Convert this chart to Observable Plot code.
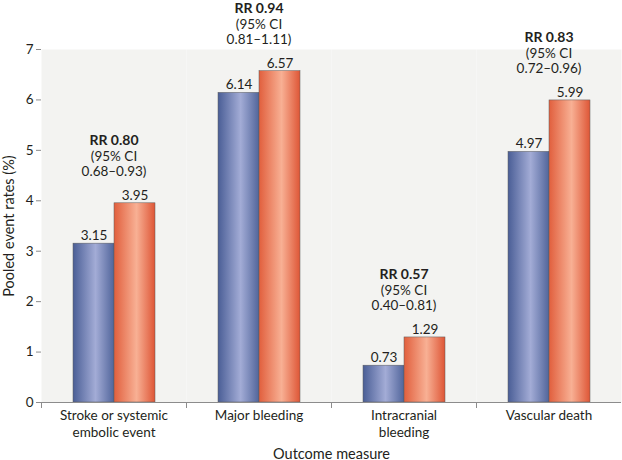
<!DOCTYPE html>
<html>
<head>
<meta charset="utf-8">
<script src="https://cdn.jsdelivr.net/npm/d3@7"></script>
<script src="https://cdn.jsdelivr.net/npm/@observablehq/plot@0.6"></script>
<style>
  html, body { margin: 0; padding: 0; background: #ffffff; }
  #chart svg { display: block; }
</style>
</head>
<body>
<div id="chart"></div>
<script>
// ---- Data ----
const categories = ["Stroke or systemic\nembolic event", "Major bleeding", "Intracranial\nbleeding", "Vascular death"];
const series = ["NOAC", "Warfarin"];
const noacRates = [3.15, 6.14, 0.73, 4.97];
const warfarinRates = [3.95, 6.57, 1.29, 5.99];
const rrValues = [0.80, 0.94, 0.57, 0.83];
const ciLow = [0.68, 0.81, 0.40, 0.72];
const ciHigh = [0.93, 1.11, 0.81, 0.96];
const yTicks = [0, 1, 2, 3, 4, 5, 6, 7];

// ---- Tables built from the arrays ----
const bars = categories.flatMap((c, i) => [
  {category: c, series: series[0], value: noacRates[i]},
  {category: c, series: series[1], value: warfarinRates[i]}
]);
const groups = categories.map((c, i) => ({
  category: c,
  top: Math.max(noacRates[i], warfarinRates[i]),
  rr: `RR ${rrValues[i].toFixed(2)}`,
  ciHead: "(95% CI",
  ci: `${ciLow[i].toFixed(2)}–${ciHigh[i].toFixed(2)})`
}));

const font = "Lato, 'Open Sans', 'DejaVu Sans', sans-serif";
const axisGray = "#8c8c8c";
const textColor = "#231f20";

const chart = Plot.plot({
  width: 622,
  height: 460,
  marginLeft: 40,
  marginRight: 0,
  marginTop: 49,
  marginBottom: 58,
  style: {fontFamily: font, fontSize: "13.5px", color: textColor, background: "transparent", overflow: "visible"},
  fx: {domain: categories, padding: 0},
  x: {domain: series, paddingInner: 0, paddingOuter: 0.73, axis: null},
  y: {domain: [0, 7]},
  color: {type: "ordinal", domain: series, range: ["url(#gradBlue)", "url(#gradOrange)"]},
  marks: [
    Plot.frame({fill: "#f3f3f1", stroke: null}),
    Plot.frame({anchor: "left", stroke: axisGray, insetTop: 353, insetBottom: -5}),
    Plot.barY(bars, {fx: "category", x: "series", y: "value", fill: "series", stroke: "#5b5b5b", strokeWidth: 0.5}),
    Plot.ruleY([0], {stroke: axisGray}),
    Plot.text(bars, {fx: "category", x: "series", y: "value", text: d => d.value.toFixed(2), dy: -8, lineAnchor: "middle", fontSize: 13.5, fill: textColor}),
    Plot.text(groups, {fx: "category", y: "top", text: "rr", dy: -62.5, lineAnchor: "middle", fontWeight: "bold", fontSize: 14, fill: textColor}),
    Plot.text(groups, {fx: "category", y: "top", text: "ciHead", dy: -47, lineAnchor: "middle", fontSize: 13.5, fill: textColor}),
    Plot.text(groups, {fx: "category", y: "top", text: "ci", dy: -31.5, lineAnchor: "middle", fontSize: 13.5, fill: textColor}),
    Plot.axisY({ticks: yTicks, tickFormat: d3.format("d"), tickSize: 5, tickPadding: 3, line: true, stroke: axisGray, fill: textColor, fontSize: 13.5, label: null}),
    Plot.axisY({ticks: [], label: "Pooled event rates (%)", labelAnchor: "center", labelArrow: "none", labelOffset: 38, fontSize: 14.5, fill: textColor}),
    Plot.axisFx({anchor: "bottom", tickSize: 0, tickPadding: 5, lineHeight: 1.27, fill: textColor, fontSize: 13.5, label: null}),
    Plot.axisFx({anchor: "bottom", ticks: [], label: "Outcome measure", labelAnchor: "center", labelArrow: "none", labelOffset: 56, fontSize: 14.5, fill: textColor})
  ]
});

// Gradient definitions for the shaded bars
const defs = d3.select(chart).insert("defs", ":first-child");
function addGradient(id, edgeL, mid, edgeR) {
  const g = defs.append("linearGradient").attr("id", id).attr("x1", "0%").attr("x2", "100%").attr("y1", "0%").attr("y2", "0%");
  g.append("stop").attr("offset", "0%").attr("stop-color", edgeL);
  g.append("stop").attr("offset", "55%").attr("stop-color", mid);
  g.append("stop").attr("offset", "100%").attr("stop-color", edgeR);
}
addGradient("gradBlue", "#4a5e96", "#a3acd6", "#51659b");
addGradient("gradOrange", "#e15f3d", "#f8b094", "#de5636");

document.getElementById("chart").appendChild(chart);
</script>
</body>
</html>
